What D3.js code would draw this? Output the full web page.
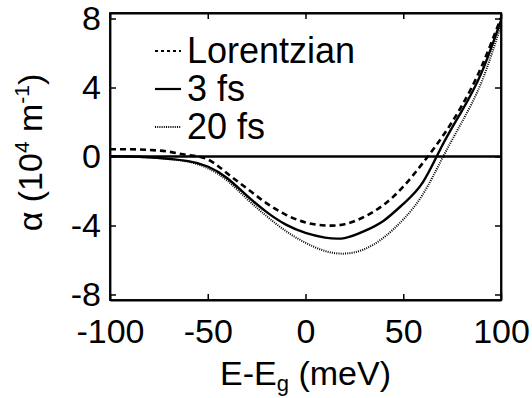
<!DOCTYPE html>
<html>
<head>
<meta charset="utf-8">
<script src="https://cdn.jsdelivr.net/npm/d3@7"></script>
<style>
  body { margin: 0; background: #fff; }
  svg { display: block; font-family: "Liberation Sans", Arial, sans-serif; }
</style>
</head>
<body>
<div id="chart"></div>
<script>
// data ----------------------------------------------------------------------
const energy = [-100, -90, -80, -70, -60, -50, -40, -30, -20, -10, 0, 10, 20, 30, 40, 50, 60, 70, 80, 90, 100];
const lorentzian = [0.42, 0.42, 0.38, 0.28, 0.08, -0.17, -0.98, -1.85, -2.7, -3.38, -3.82, -4.0, -3.93, -3.5, -2.8, -1.75, -0.38, 1.15, 2.95, 5.2, 8.05];
const fs3 = [0.02, 0.0, -0.05, -0.14, -0.27, -0.58, -1.26, -2.27, -3.21, -3.95, -4.43, -4.7, -4.73, -4.33, -3.72, -2.75, -1.5, 0.65, 2.65, 4.85, 7.9];
const fs20 = [0.0, -0.02, -0.06, -0.15, -0.3, -0.68, -1.4, -2.45, -3.45, -4.33, -5.0, -5.48, -5.63, -5.38, -4.7, -3.65, -2.2, -0.1, 2.0, 4.3, 7.6];
const xTicks = [-100, -50, 0, 50, 100];
const yTicks = [-8, -4, 0, 4, 8];
const legendLabels = ['Lorentzian', '3 fs', '20 fs'];
// ---------------------------------------------------------------------------
const width = 532, height = 398;
const m = {left: 110, right: 501, top: 13, bottom: 300};

const svg = d3.select('#chart').append('svg')
  .attr('width', width)
  .attr('height', height);

const x = d3.scaleLinear().domain([-100, 100]).range([m.left, m.right]);
const y = d3.scaleLinear().domain([-8.32, 8.32]).range([m.bottom, m.top]);

const series = [
  {name: legendLabels[0], values: lorentzian, width: 2.6, dash: '6,4'},
  {name: legendLabels[1], values: fs3, width: 2.4, dash: null},
  {name: legendLabels[2], values: fs20, width: 2, dash: '1,1.2'}
];

// zero line
svg.append('line')
  .attr('x1', x(-100)).attr('x2', x(100))
  .attr('y1', y(0)).attr('y2', y(0))
  .attr('stroke', '#000')
  .attr('stroke-width', 2.6);

const line = d3.line()
  .x((d, i) => x(energy[i]))
  .y(d => y(d))
  .curve(d3.curveNatural);

svg.append('g').selectAll('path')
  .data(series)
  .enter()
  .append('path')
  .attr('d', d => line(d.values))
  .attr('fill', 'none')
  .attr('stroke', '#000')
  .attr('stroke-width', d => d.width)
  .attr('stroke-dasharray', d => d.dash);

// frame + inward ticks on all four sides
const tickLen = 6;
svg.append('g').attr('transform', 'translate(0,' + m.bottom + ')')
  .call(d3.axisBottom(x).tickValues(xTicks).tickSizeInner(-tickLen).tickSizeOuter(0).tickPadding(19).tickFormat(d3.format('d')));
svg.append('g').attr('transform', 'translate(0,' + m.top + ')')
  .call(d3.axisTop(x).tickValues(xTicks).tickSizeInner(-tickLen).tickSizeOuter(0).tickFormat(''));
svg.append('g').attr('transform', 'translate(' + m.left + ',0)')
  .call(d3.axisLeft(y).tickValues(yTicks).tickSizeInner(-tickLen).tickSizeOuter(0).tickPadding(9).tickFormat(d3.format('d')));
svg.append('g').attr('transform', 'translate(' + m.right + ',0)')
  .call(d3.axisRight(y).tickValues(yTicks).tickSizeInner(-tickLen).tickSizeOuter(0).tickFormat(''));

svg.selectAll('.domain').attr('stroke', '#000').attr('stroke-width', 1.8);
svg.selectAll('.tick line').attr('stroke', '#000').attr('stroke-width', 1.5);
svg.selectAll('.tick text')
  .attr('font-size', '34px')
  .attr('font-family', '"Liberation Sans", Arial, sans-serif')
  .attr('fill', '#000')
  .text(function () { return d3.select(this).text().replace('−', '-'); });

svg.append('rect')
  .attr('x', m.left).attr('y', m.top)
  .attr('width', m.right - m.left).attr('height', m.bottom - m.top)
  .attr('fill', 'none').attr('stroke', '#000').attr('stroke-width', 1.8);

// axis titles
const xt = svg.append('text')
  .attr('x', (m.left + m.right) / 2)
  .attr('y', 385)
  .attr('text-anchor', 'middle')
  .attr('font-size', '34px');
xt.append('tspan').text('E-E');
xt.append('tspan').attr('font-size', '22px').attr('dy', 6).text('g');
xt.append('tspan').attr('dy', -6).text(' (meV)');

const yt = svg.append('text')
  .attr('transform', 'translate(42,' + ((m.top + m.bottom) / 2 - 4) + ') rotate(-90)')
  .attr('text-anchor', 'middle')
  .attr('font-size', '34px');
yt.append('tspan').text('α (10');
yt.append('tspan').attr('font-size', '21px').attr('dy', -13).text('4');
yt.append('tspan').attr('dy', 13).text(' m');
yt.append('tspan').attr('font-size', '21px').attr('dy', -13).text('-1');
yt.append('tspan').attr('dy', 13).text(')');

// legend
const legend = svg.append('g')
  .selectAll('g')
  .data(series)
  .enter()
  .append('g')
  .attr('transform', (d, i) => 'translate(0,' + [63, 101, 139][i] + ')');
legend.append('line')
  .attr('x1', 155).attr('x2', 181)
  .attr('y1', -12).attr('y2', -12)
  .attr('stroke', '#000')
  .attr('stroke-width', d => d.width === 2 ? 2 : 2.2)
  .attr('stroke-dasharray', d => d.dash === '6,4' ? '3,3' : d.dash);
legend.append('text')
  .attr('x', 187)
  .attr('font-size', '36px')
  .text(d => d.name);
</script>
</body>
</html>
